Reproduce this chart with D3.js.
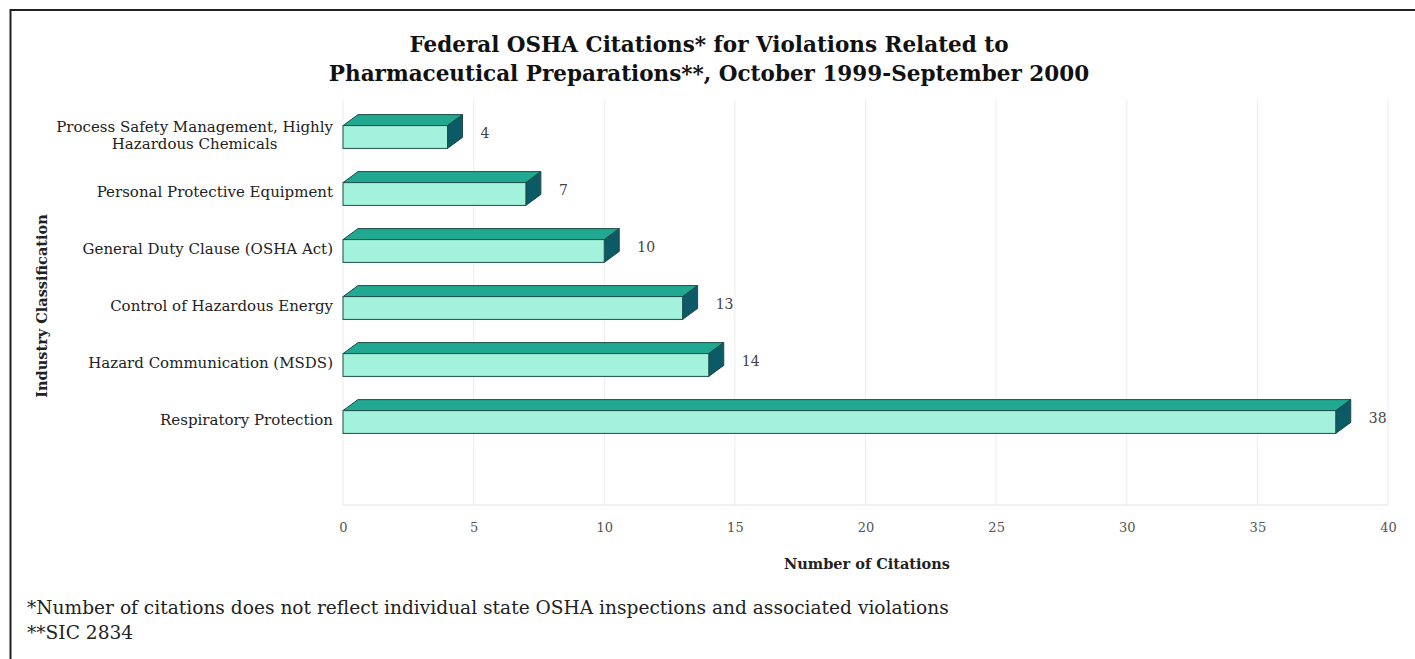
<!doctype html>
<html lang="en">
<head>
<meta charset="utf-8">
<title>Federal OSHA Citations</title>
<script src="https://cdn.jsdelivr.net/npm/d3@7"></script>
<style>
    body { margin: 0; background: #fff; }
    svg { display: block; font-family: "DejaVu Serif", serif; }
</style>
</head>
<body>
<svg id="chart"></svg>
<script>
    // data
    const categories = [
        "Process Safety Management, Highly|Hazardous Chemicals",
        "Personal Protective Equipment",
        "General Duty Clause (OSHA Act)",
        "Control of Hazardous Energy",
        "Hazard Communication (MSDS)",
        "Respiratory Protection"
    ];
    const citations = [4, 7, 10, 13, 14, 38];
    const xTicks = [0, 5, 10, 15, 20, 25, 30, 35, 40];

    const W = 1415, H = 659;
    const svg = d3.select("#chart").attr("width", W).attr("height", H);

    // frame
    svg.append("path")
        .attr("d", `M10.5,${H} V10 H${W}`)
        .attr("fill", "none")
        .attr("stroke", "#222")
        .attr("stroke-width", 2);

    const x = d3.scaleLinear().domain([0, 40]).range([343, 1388]);
    const y = d3.scaleBand().domain(categories).range([108.5, 450.5])
        .paddingInner(0.6).paddingOuter(0.3);
    const plotTop = 100, plotBottom = 505;
    const dx = 15, dy = 11;

    // gridlines
    svg.append("g").selectAll("line")
        .data(xTicks)
        .join("line")
        .attr("x1", d => x(d)).attr("x2", d => x(d))
        .attr("y1", plotTop).attr("y2", plotBottom)
        .attr("stroke", "#ececec");

    svg.append("line")
        .attr("x1", x(0)).attr("x2", x(40))
        .attr("y1", plotBottom).attr("y2", plotBottom)
        .attr("stroke", "#e4e4e4");

    // x axis
    const xAxis = svg.append("g")
        .attr("transform", `translate(0,${plotBottom})`)
        .call(d3.axisBottom(x).tickValues(xTicks).tickSize(0).tickPadding(18));
    xAxis.select(".domain").remove();
    xAxis.selectAll("text")
        .attr("font-family", "DejaVu Serif, serif")
        .attr("font-size", 13)
        .attr("fill", "#555");

    // 3d bars
    const bars = svg.append("g").selectAll("g")
        .data(categories)
        .join("g");

    const outline = "#1d4f4b";
    bars.append("path") // top face
        .attr("d", (d, i) => {
            const x0 = x(0), x1 = x(citations[i]), t = y(d);
            return `M${x0},${t} L${x0 + dx},${t - dy} L${x1 + dx},${t - dy} L${x1},${t} Z`;
        })
        .attr("fill", "#21a891").attr("stroke", outline).attr("stroke-width", 1);

    bars.append("path") // side face
        .attr("d", (d, i) => {
            const x1 = x(citations[i]), t = y(d), b = t + y.bandwidth();
            return `M${x1},${t} L${x1 + dx},${t - dy} L${x1 + dx},${b - dy} L${x1},${b} Z`;
        })
        .attr("fill", "#0b5a66").attr("stroke", outline).attr("stroke-width", 1);

    bars.append("rect") // front face
        .attr("x", x(0))
        .attr("y", d => y(d))
        .attr("width", (d, i) => x(citations[i]) - x(0))
        .attr("height", y.bandwidth())
        .attr("fill", "#a2f2dc").attr("stroke", outline).attr("stroke-width", 1);

    // value labels
    bars.append("text")
        .attr("x", (d, i) => x(citations[i]) + dx + 18)
        .attr("y", d => y(d) + y.bandwidth() / 2 - 4)
        .attr("dy", "0.35em")
        .attr("font-size", 14)
        .attr("fill", "#444")
        .text((d, i) => citations[i]);

    // category labels
    const catLabels = svg.append("g").selectAll("text")
        .data(categories)
        .join("text")
        .attr("x", 333)
        .attr("text-anchor", "end")
        .attr("font-size", 15)
        .attr("fill", "#222");
    catLabels.each(function (d) {
        const lines = d.split("|");
        const cy = y(d) + y.bandwidth() / 2 - 2;
        const t = d3.select(this);
        lines.forEach((ln, k) => {
            t.append("tspan")
                .attr("x", 333)
                .attr("y", cy + (k - (lines.length - 1) / 2) * 17)
                .attr("dy", "0.35em")
                .attr("text-anchor", k === 0 ? "end" : "middle")
                .text(ln);
        });
    });
    // second line of the wrapped label is centred under the first one
    catLabels.filter(d => d.includes("|")).each(function () {
        const spans = d3.select(this).selectAll("tspan").nodes();
        const w = spans[0].getComputedTextLength();
        d3.select(spans[1]).attr("x", 333 - w / 2);
    });

    // titles
    const title = svg.append("text")
        .attr("x", 709).attr("text-anchor", "middle")
        .attr("font-size", 21.5).attr("font-weight", "bold").attr("fill", "#111");
    title.append("tspan").attr("x", 709).attr("y", 52).text("Federal OSHA Citations* for Violations Related to");
    title.append("tspan").attr("x", 709).attr("y", 81).text("Pharmaceutical Preparations**, October 1999-September 2000");

    svg.append("text")
        .attr("x", 867).attr("y", 569)
        .attr("text-anchor", "middle")
        .attr("font-size", 14.5).attr("font-weight", "bold").attr("fill", "#222")
        .text("Number of Citations");

    svg.append("text")
        .attr("transform", "translate(47,306) rotate(-90)")
        .attr("text-anchor", "middle")
        .attr("font-size", 14.5).attr("font-weight", "bold").attr("fill", "#222")
        .text("Industry Classification");

    // footnotes
    svg.append("text")
        .attr("x", 27).attr("y", 614)
        .attr("font-size", 18.6).attr("fill", "#222")
        .text("*Number of citations does not reflect individual state OSHA inspections and associated violations");
    svg.append("text")
        .attr("x", 27).attr("y", 639)
        .attr("font-size", 18.6).attr("fill", "#222")
        .text("**SIC 2834");
</script>
</body>
</html>
